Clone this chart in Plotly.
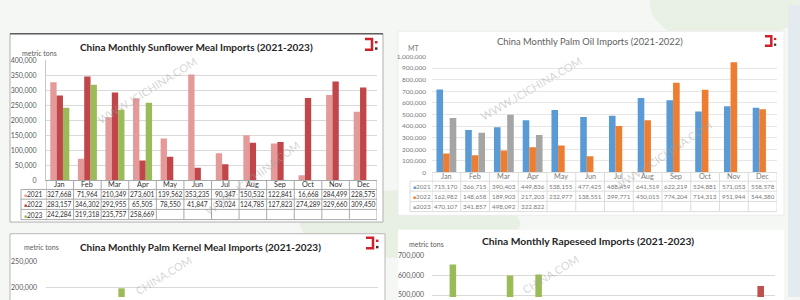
import plotly.graph_objects as go

W, H = 800, 300
def px(x): return x / W
def py(y): return 1 - y / H

FONT = "Lato"

months = ["Jan", "Feb", "Mar", "Apr", "May", "Jun", "Jul", "Aug", "Sep", "Oct", "Nov", "Dec"]
years = ["2021", "2022", "2023"]

# Sunflower meal imports (metric tons)
sun_2021 = [327668, 71964, 210349, 273601, 139562, 353235, 90347, 150532, 122841, 16668, 284499, 228575]
sun_2022 = [283157, 346302, 292955, 65505, 78550, 41847, 53024, 124785, 127823, 274289, 329660, 309450]
sun_2023 = [242284, 319318, 235757, 258669]

# Palm oil imports (MT)
palm_2021 = [715170, 366715, 390403, 449836, 538155, 477425, 488459, 641519, 622219, 524881, 571053, 558578]
palm_2022 = [162982, 148658, 189903, 217203, 232977, 138551, 399771, 450015, 774204, 714313, 951944, 544380]
palm_2023 = [470107, 341857, 498092, 322822]

# Palm kernel meal imports: only the visible top of the chart
pkm_months_2023 = ["Mar"]
pkm_2023 = [198000]

# Rapeseed imports: only the visible top of the chart
rape_months_2022 = ["Dec"]
rape_2022 = [545000]
rape_months_2023 = ["Jan", "Mar", "Apr"]
rape_2023 = [653000, 598000, 603000]

SUN_COLORS = ["#E59A9A", "#C0464A", "#9BBB59"]
PALM_COLORS = ["#5B9BD5", "#ED7D31", "#A5A5A5"]
RAPE_COLORS = ["#E59A9A", "#C0504D", "#9BBB59"]

BW = 0.23
OFFS = [-1.5 * BW, -0.5 * BW, 0.5 * BW]

fig = go.Figure()

def add_bars(xs, ys, color, slot, xa, ya):
    fig.add_trace(go.Bar(x=xs, y=ys, marker=dict(color=color, line=dict(width=0)),
                         width=BW, offset=OFFS[slot], xaxis=xa, yaxis=ya,
                         showlegend=False, hoverinfo="x+y"))

# Sunflower
add_bars(months, sun_2021, SUN_COLORS[0], 0, "x", "y")
add_bars(months, sun_2022, SUN_COLORS[1], 1, "x", "y")
add_bars(months[:len(sun_2023)], sun_2023, SUN_COLORS[2], 2, "x", "y")
# Palm oil
add_bars(months, palm_2021, PALM_COLORS[0], 0, "x2", "y2")
add_bars(months, palm_2022, PALM_COLORS[1], 1, "x2", "y2")
add_bars(months[:len(palm_2023)], palm_2023, PALM_COLORS[2], 2, "x2", "y2")
# Palm kernel meal
add_bars(pkm_months_2023, pkm_2023, SUN_COLORS[2], 2, "x3", "y3")
# Rapeseed
add_bars(rape_months_2022, rape_2022, RAPE_COLORS[1], 1, "x4", "y4")
add_bars(rape_months_2023, rape_2023, RAPE_COLORS[2], 2, "x4", "y4")

shapes = []
annotations = []

# Background decorations
shapes.append(dict(type="circle", xref="paper", yref="paper", x0=px(300), x1=px(520), y0=py(260), y1=py(190),
                   fillcolor="rgba(170,210,150,0.18)", line=dict(width=0), layer="below"))
shapes.append(dict(type="circle", xref="paper", yref="paper", x0=px(650), x1=px(800), y0=py(40), y1=py(-40),
                   fillcolor="rgba(170,210,150,0.15)", line=dict(width=0), layer="below"))
shapes.append(dict(type="rect", xref="paper", yref="paper", x0=px(788), x1=px(800), y0=py(300), y1=py(0),
                   fillcolor="#e3ebf1", line=dict(width=0), layer="below"))

# Panels
shapes.append(dict(type="rect", xref="paper", yref="paper", x0=px(10), x1=px(383), y0=py(223), y1=py(29.5),
                   fillcolor="white", line=dict(color="#b0b0b0", width=1), layer="below"))
shapes.append(dict(type="line", xref="paper", yref="paper", x0=px(10), x1=px(383), y0=py(29.5), y1=py(29.5),
                   line=dict(color="#606060", width=1.5), layer="below"))
shapes.append(dict(type="rect", xref="paper", yref="paper", x0=px(398), x1=px(784), y0=py(216), y1=py(27),
                   fillcolor="white", line=dict(color="#ececec", width=1), layer="below"))
shapes.append(dict(type="rect", xref="paper", yref="paper", x0=px(10), x1=px(385), y0=py(305), y1=py(235),
                   fillcolor="white", line=dict(color="#b8b8b8", width=1), layer="below"))
shapes.append(dict(type="rect", xref="paper", yref="paper", x0=px(398), x1=px(784), y0=py(305), y1=py(231),
                   fillcolor="white", line=dict(width=0), layer="below"))

def fmt(v):
    return f"{v:,}"

right_px = {"x": 377, "x2": 777}

def data_table(xa, rows, colors, left_px, y_top, header_y, row_lines, row_centers, line_color, text_color, fsize):
    # vertical lines at month boundaries
    for i in range(len(months) + 1):
        shapes.append(dict(type="line", xref=xa, yref="paper", x0=i - 0.5, x1=i - 0.5,
                           y0=py(y_top), y1=py(row_lines[-1]), line=dict(color=line_color, width=1)))
    shapes.append(dict(type="line", xref="paper", yref="paper", x0=px(left_px), x1=px(left_px),
                       y0=py(row_lines[0]), y1=py(row_lines[-1]), line=dict(color=line_color, width=1)))
    for yl in row_lines:
        shapes.append(dict(type="line", xref="paper", yref="paper", x0=px(left_px), x1=px(right_px[xa]),
                           y0=py(yl), y1=py(yl), line=dict(color=line_color, width=1)))
    for m in months:
        annotations.append(dict(xref=xa, yref="paper", x=m, y=py(header_y), xanchor="center",
                                yanchor="middle", showarrow=False, text=m,
                                font=dict(size=7.3, color=text_color, family=FONT)))
    for r, (yr, vals) in enumerate(zip(years, rows)):
        annotations.append(dict(xref="paper", yref="paper", x=px(left_px + 1), y=py(row_centers[r]),
                                xanchor="left", yanchor="middle", showarrow=False,
                                text=f"<span style='color:{colors[r]};font-size:5px'>■</span>{yr}",
                                font=dict(size=fsize, color=text_color, family=FONT)))
        for m, v in zip(months, vals):
            annotations.append(dict(xref=xa, yref="paper", x=m, y=py(row_centers[r]),
                                    xanchor="center", yanchor="middle", showarrow=False,
                                    text=fmt(v), font=dict(size=fsize, color=text_color, family=FONT)))

data_table("x", [sun_2021, sun_2022, sun_2023], SUN_COLORS, 21, 180, 184.5,
           [189.5, 199.5, 210, 220.5], [194.5, 204.8, 215.3], "#a9a9a9", "#303030", 6.6)
data_table("x2", [palm_2021, palm_2022, palm_2023], PALM_COLORS, 410, 172, 176.5,
           [181, 191.3, 201.8, 212.3], [186, 196.5, 207], "#dcdcdc", "#7a7a7a", 6.3)

# Titles
annotations += [
    dict(xref="paper", yref="paper", x=px(196), y=py(43), text="<b>China Monthly Sunflower Meal Imports (2021-2023)</b>",
         showarrow=False, xanchor="center", yanchor="middle", font=dict(size=10, color="#262626", family=FONT)),
    dict(xref="paper", yref="paper", x=px(590), y=py(38), text="China Monthly Palm Oil Imports (2021-2022)",
         showarrow=False, xanchor="center", yanchor="middle", font=dict(size=9.4, color="#5f5f5f", family=FONT)),
    dict(xref="paper", yref="paper", x=px(201), y=py(249), text="<b>China Monthly Palm Kernel Meal Imports (2021-2023)</b>",
         showarrow=False, xanchor="center", yanchor="middle", font=dict(size=10, color="#262626", family=FONT)),
    dict(xref="paper", yref="paper", x=px(588), y=py(242), text="<b>China Monthly Rapeseed Imports (2021-2023)</b>",
         showarrow=False, xanchor="center", yanchor="middle", font=dict(size=10.3, color="#262626", family=FONT)),
    dict(xref="paper", yref="paper", x=px(20), y=py(49), text="metric tons", showarrow=False,
         xanchor="left", yanchor="middle", font=dict(size=7, color="#595959", family=FONT)),
    dict(xref="paper", yref="paper", x=px(414), y=py(44), text="MT", showarrow=False,
         xanchor="center", yanchor="middle", font=dict(size=7, color="#7a7a7a", family=FONT)),
    dict(xref="paper", yref="paper", x=px(22), y=py(249), text="metric tons", showarrow=False,
         xanchor="left", yanchor="middle", font=dict(size=7, color="#595959", family=FONT)),
    dict(xref="paper", yref="paper", x=px(407), y=py(246), text="metric tons", showarrow=False,
         xanchor="left", yanchor="middle", font=dict(size=7, color="#595959", family=FONT)),
]

# Watermarks
for (txt, cx, cy, ang) in [("WWW.JCICHINA.COM", 147, 88, -32), ("WWW.JCICHINA.COM", 253, 177, -37),
                           ("WWW.JCICHINA.COM", 531, 86, -30), ("WWW.JCICHINA.COM", 663, 155, -34),
                           ("CHINA.COM", 163, 278, -31), ("CHINA.COM", 550, 277, -31)]:
    annotations.append(dict(xref="paper", yref="paper", x=px(cx), y=py(cy), text=txt,
                            showarrow=False, textangle=ang, xanchor="center", yanchor="middle",
                            font=dict(size=11, color="rgba(160,160,160,0.45)", family=FONT)))

# Logos
def logo(x0, y0, s):
    shapes.append(dict(type="path", xref="paper", yref="paper",
                       path=f"M {px(x0)},{py(y0)} L {px(x0 + 7*s)},{py(y0)} L {px(x0 + 7*s)},{py(y0 + 11*s)} L {px(x0)},{py(y0 + 11*s)}",
                       line=dict(color="#d0202a", width=2.5)))
    shapes.append(dict(type="rect", xref="paper", yref="paper", x0=px(x0 + 10*s), x1=px(x0 + 12.5*s),
                       y0=py(y0 + 2*s), y1=py(y0 + 4.5*s), fillcolor="#d0202a", line=dict(width=0)))
    shapes.append(dict(type="rect", xref="paper", yref="paper", x0=px(x0 + 10*s), x1=px(x0 + 12.5*s),
                       y0=py(y0 + 8.5*s), y1=py(y0 + 11*s), fillcolor="#303030", line=dict(width=0)))

logo(365, 35, 1)
logo(765, 32, 0.9)
logo(366, 239, 1)

axis_common = dict(showgrid=False, zeroline=False, fixedrange=True)
ytick_font = dict(size=7, color="#595959", family=FONT)

fig.update_layout(
    width=W, height=H, margin=dict(l=0, r=0, t=0, b=0),
    paper_bgcolor="#f5f7f4", plot_bgcolor="rgba(0,0,0,0)",
    barmode="group", font=dict(family=FONT),
    shapes=shapes, annotations=annotations,
    xaxis=dict(domain=[px(46), px(377)], anchor="y", type="category", categoryarray=months,
               showticklabels=False, ticks="", showline=True,
               linecolor="#a9a9a9", range=[-0.5, 11.5], **axis_common),
    yaxis=dict(domain=[py(180), py(57)], anchor="x", range=[0, 400000], dtick=50000, tickformat=",d",
               showgrid=True, gridcolor="#d9d9d9", tickfont=ytick_font, ticklabelstandoff=7,
               showline=True, linecolor="#c8c8c8", zeroline=False, fixedrange=True),
    xaxis2=dict(domain=[px(432), px(777)], anchor="y2", type="category", categoryarray=months,
                showticklabels=False, ticks="", showline=True,
                linecolor="#dcdcdc", range=[-0.5, 11.5], **axis_common),
    yaxis2=dict(domain=[py(172), py(53)], anchor="x2", range=[0, 1000000], dtick=100000, tickformat=",d",
                showgrid=True, gridcolor="#e6e6e6", tickfont=dict(size=6.5, color="#7a7a7a", family=FONT),
                ticklabelstandoff=5, zeroline=False, fixedrange=True),
    xaxis3=dict(domain=[px(46), px(378)], anchor="y3", type="category", categoryarray=months,
                showticklabels=False, range=[-0.5, 11.5], **axis_common),
    yaxis3=dict(domain=[0, py(264)], anchor="x3", range=[180770, 250000], dtick=50000, tickformat=",d",
                showgrid=True, gridcolor="#d9d9d9", tickfont=ytick_font, ticklabelstandoff=8,
                zeroline=False, fixedrange=True),
    xaxis4=dict(domain=[px(432), px(775)], anchor="y4", type="category", categoryarray=months,
                showticklabels=False, range=[-0.5, 11.5], **axis_common),
    yaxis4=dict(domain=[0, py(257)], anchor="x4", range=[490000, 700000], dtick=100000, tickformat=",d",
                showgrid=True, gridcolor="#d9d9d9", tickfont=ytick_font, ticklabelstandoff=7,
                zeroline=False, fixedrange=True),
)

fig.write_html("out.html")
